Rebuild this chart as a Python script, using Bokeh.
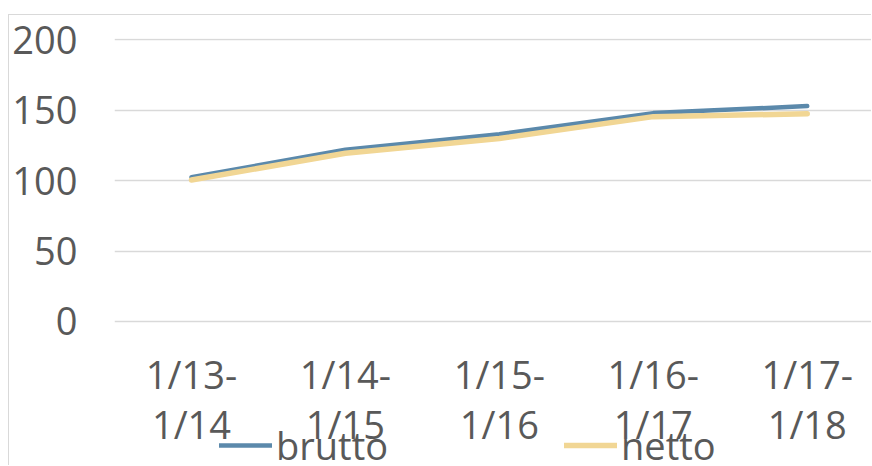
from bokeh.plotting import figure
from bokeh.models import Legend, LegendItem, Range1d, FixedTicker
from bokeh.embed import file_html
from bokeh.resources import INLINE

periods = ["1/13-\n1/14", "1/14-\n1/15", "1/15-\n1/16", "1/16-\n1/17", "1/17-\n1/18"]
brutto = [102.5, 122, 133, 148, 153]
netto = [100.5, 119.5, 130, 145.5, 147.5]
y_ticks = [0, 50, 100, 150, 200]

FONT = "Open Sans"
FSIZE = "38px"
TEXT = "#595959"
GRID = "#d9d9d9"

x = list(range(len(periods)))

# frame runs to the bottom of the canvas; value 0 sits at 321px, 200 at ~39px
p = figure(width=863, height=451, output_backend="svg", toolbar_location=None,
           x_range=Range1d(-0.5, 4.424), y_range=Range1d(-103, 201),
           min_border_left=101, min_border_right=0, min_border_top=23, min_border_bottom=0)
p.styles = {"margin": "14px 0 0 8px", "border-top": "1px solid #d9d9d9", "border-left": "1px solid #d9d9d9"}
p.outline_line_color = None

r_b = p.line(x, brutto, line_color="#5B89AB", line_width=4.5, line_cap="round", line_join="round")
r_n = p.line(x, netto, line_color="#F1D694", line_width=5.5, line_cap="round", line_join="round")

p.xaxis.ticker = FixedTicker(ticks=x)
p.xaxis.major_label_overrides = {i: periods[i] for i in x}
p.xaxis.fixed_location = 0
p.yaxis.ticker = FixedTicker(ticks=y_ticks)
for ax in (p.xaxis[0], p.yaxis[0]):
    ax.axis_line_color = None
    ax.major_tick_line_color = None
    ax.minor_tick_line_color = None
    ax.major_tick_out = 0
    ax.major_label_text_font = FONT
    ax.major_label_text_font_size = FSIZE
    ax.major_label_text_color = TEXT
p.yaxis.major_label_standoff = 37
p.xaxis.major_label_standoff = 27
p.xaxis.major_label_text_line_height = 0.95
p.xgrid.grid_line_color = None
p.ygrid.grid_line_color = GRID
p.ygrid.grid_line_width = 1.5

legend = Legend(items=[LegendItem(label="brutto", renderers=[r_b]),
                       LegendItem(label="netto", renderers=[r_n])],
                orientation="horizontal", location=(105, -5),
                glyph_width=53, label_standoff=4, spacing=173, label_width=115,
                padding=0, margin=0, border_line_color=None, background_fill_alpha=0,
                label_text_font=FONT, label_text_font_size=FSIZE, label_text_color=TEXT)
p.add_layout(legend)

open("out.html", "w").write(file_html(p, INLINE))
